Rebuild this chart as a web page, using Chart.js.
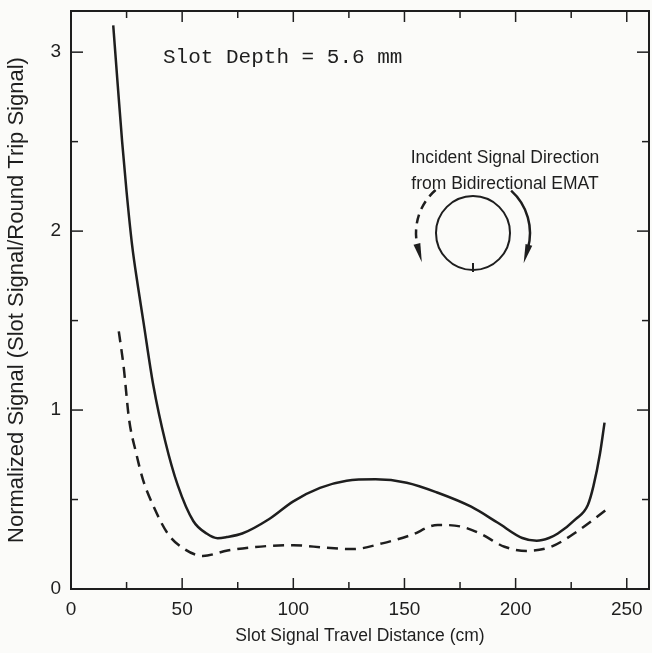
<!DOCTYPE html>
<html>
<head>
<meta charset="utf-8">
<script src="https://cdn.jsdelivr.net/npm/chart.js@4/dist/chart.umd.min.js"></script>
<style>
  html, body { margin: 0; padding: 0; background: #fbfbf9; }
  #wrap { width: 652px; height: 653px; }
</style>
</head>
<body>
<div id="wrap"><canvas id="chart" width="652" height="653"></canvas></div>
<script>
// solid curve
const solidX = [19, 21, 23, 25, 27.5, 30, 32.5, 37, 42.5, 48, 55, 61, 66, 70, 77, 89, 100, 112, 124, 137,
                151, 165, 180, 192, 203, 209.5, 215, 219, 227, 232.5, 235, 238, 240];
const solidY = [3.15, 2.82, 2.5, 2.22, 1.92, 1.7, 1.5, 1.14, 0.82, 0.58, 0.38, 0.31, 0.284, 0.29, 0.31, 0.39, 0.49, 0.565, 0.605, 0.613,
                0.594, 0.538, 0.46, 0.37, 0.285, 0.27, 0.285, 0.31, 0.39, 0.47, 0.575, 0.76, 0.93];
// dashed curve
const dashedX = [21.5, 23.7, 26.1, 29.3, 32.4, 37.2, 43.5, 51.4, 59.3, 70.4, 83, 100, 115, 127, 140, 152.7,
                 165, 175, 184, 195, 205, 216, 228.6, 242];
const dashedY = [1.44, 1.24, 0.95, 0.76, 0.61, 0.46, 0.31, 0.22, 0.185, 0.215, 0.235, 0.245, 0.23, 0.223, 0.255, 0.30,
                 0.358, 0.35, 0.31, 0.236, 0.213, 0.236, 0.33, 0.455];

const xTicks = [0, 50, 100, 150, 200, 250];
const yTicks = [0, 1, 2, 3];
const xMinor = [25, 75, 125, 175, 225];
const yMinor = [0.5, 1.5, 2.5];

const ink = '#1e1e1e';
const sans = '"Liberation Sans", Arial, sans-serif';

const toPts = (xs, ys) => xs.map((v, i) => ({ x: v, y: ys[i] }));

const frame = {
  id: 'frame',
  afterDraw(chart) {
    const { ctx, chartArea: a, scales: { x, y } } = chart;
    const seg = (x1, y1, x2, y2) => { ctx.beginPath(); ctx.moveTo(x1, y1); ctx.lineTo(x2, y2); ctx.stroke(); };
    ctx.save();
    ctx.strokeStyle = ink;
    ctx.fillStyle = ink;
    ctx.lineWidth = 2;
    ctx.strokeRect(a.left, a.top, a.right - a.left, a.bottom - a.top);

    ctx.lineWidth = 1.5;
    xTicks.concat(xMinor).forEach(v => {
      const px = x.getPixelForValue(v);
      const len = xTicks.includes(v) ? 11 : 7;
      seg(px, a.bottom, px, a.bottom - len);
      seg(px, a.top, px, a.top + len);
    });
    yTicks.concat(yMinor).forEach(v => {
      const py = y.getPixelForValue(v);
      const len = yTicks.includes(v) ? 12 : 7;
      seg(a.left, py, a.left + len, py);
      seg(a.right, py, a.right - len, py);
    });

    // annotation text
    ctx.textBaseline = 'middle';
    ctx.font = '21px "Liberation Mono", monospace';
    ctx.textAlign = 'left';
    ctx.fillText('Slot Depth = 5.6 mm', 163, 57);

    ctx.font = '17.5px ' + sans;
    ctx.textAlign = 'center';
    ctx.fillText('Incident Signal Direction', 505, 158);
    ctx.fillText('from Bidirectional EMAT', 505, 184);

    // circle with direction arrows
    const cx = 473, cy = 233, r = 37, R = 57;
    const rad = d => d * Math.PI / 180;
    ctx.lineWidth = 2;
    ctx.beginPath(); ctx.arc(cx, cy, r, 0, Math.PI * 2); ctx.stroke();
    seg(cx, cy + r - 7, cx, cy + r + 2);

    const head = (ang, dir) => {
      const t = rad(ang);
      const ex = cx + R * Math.cos(t), ey = cy + R * Math.sin(t);
      const dx = dir * -Math.sin(t), dy = dir * Math.cos(t);
      const bx = ex - dx * 4, by = ey - dy * 4;
      ctx.beginPath();
      ctx.moveTo(ex + dx * 15, ey + dy * 15);
      ctx.lineTo(bx - dy * 3.5, by + dx * 3.5);
      ctx.lineTo(bx + dy * 3.5, by - dx * 3.5);
      ctx.closePath();
      ctx.fill();
    };
    ctx.lineWidth = 2.5;
    ctx.beginPath(); ctx.arc(cx, cy, R, rad(-48), rad(16)); ctx.stroke();
    head(16, 1);
    ctx.setLineDash([9, 6]);
    ctx.beginPath(); ctx.arc(cx, cy, R, rad(-131), rad(165), true); ctx.stroke();
    ctx.setLineDash([]);
    head(165, -1);
    ctx.restore();
  }
};

new Chart(document.getElementById('chart'), {
  type: 'line',
  data: {
    datasets: [
      { data: toPts(solidX, solidY), borderColor: ink, borderWidth: 2.5, pointRadius: 0,
        cubicInterpolationMode: 'monotone', fill: false },
      { data: toPts(dashedX, dashedY), borderColor: ink, borderWidth: 2.5, pointRadius: 0,
        borderDash: [11, 7], cubicInterpolationMode: 'monotone', fill: false }
    ]
  },
  options: {
    responsive: false,
    animation: false,
    layout: { padding: { top: 11, right: 3, left: 0, bottom: 0 } },
    plugins: { legend: { display: false }, tooltip: { enabled: false } },
    scales: {
      x: {
        type: 'linear', min: 0, max: 260,
        afterBuildTicks: s => { s.ticks = xTicks.map(v => ({ value: v })); },
        afterFit: s => { s.height = 64; s.paddingLeft = 0; s.paddingRight = 0; },
        grid: { display: false, drawTicks: false },
        border: { display: false },
        ticks: { color: ink, padding: 9, font: { family: sans, size: 19 }, maxRotation: 0 },
        title: { display: true, text: 'Slot Signal Travel Distance (cm)', color: ink,
                 font: { family: sans, size: 17.5 }, padding: { top: 0, bottom: 6 } }
      },
      y: {
        min: 0, max: 3.23,
        afterBuildTicks: s => { s.ticks = yTicks.map(v => ({ value: v })); },
        afterFit: s => { s.width = 71; s.paddingTop = 0; s.paddingBottom = 0; },
        grid: { display: false, drawTicks: false },
        border: { display: false },
        ticks: { color: ink, padding: 10, font: { family: sans, size: 19 } },
        title: { display: true, text: 'Normalized Signal (Slot Signal/Round Trip Signal)', color: ink,
                 font: { family: sans, size: 22 }, padding: { top: 4, bottom: 0 } }
      }
    }
  },
  plugins: [frame]
});
</script>
</body>
</html>
